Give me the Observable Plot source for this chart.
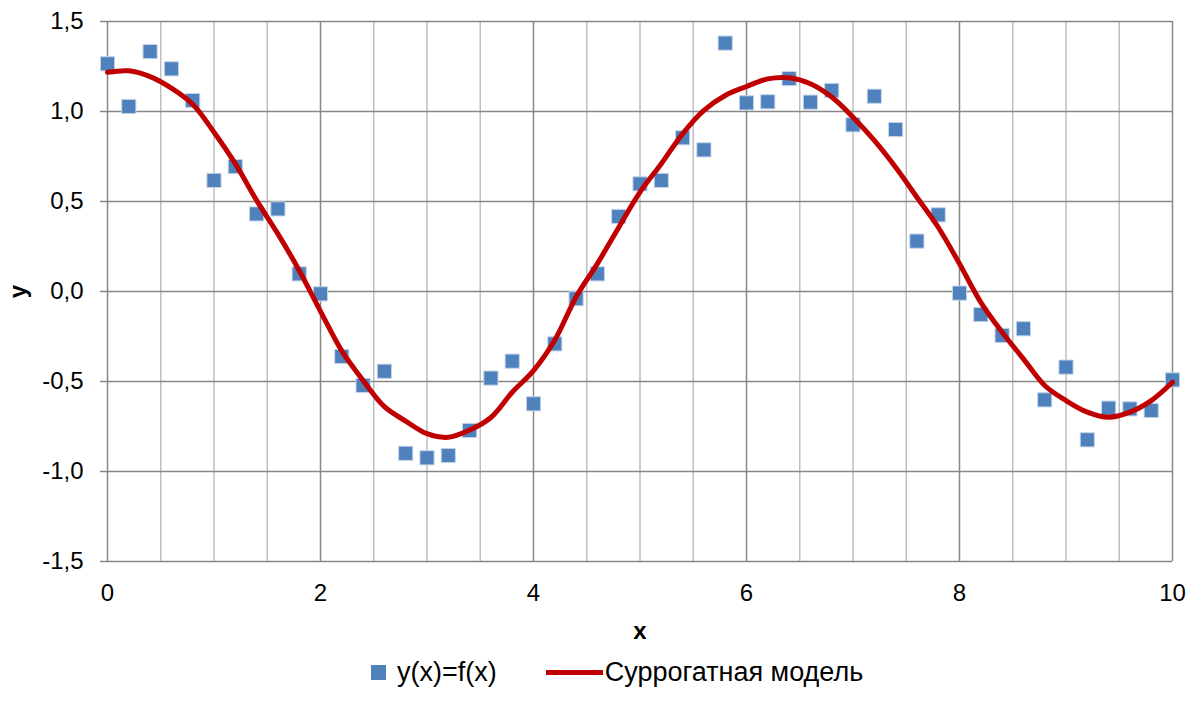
<!DOCTYPE html>
<html>
<head>
<meta charset="utf-8">
<script src="https://cdn.jsdelivr.net/npm/d3@7"></script>
<script src="https://cdn.jsdelivr.net/npm/@observablehq/plot@0.6"></script>
<style>
  body { margin: 0; background: #fff; font-family: "Liberation Sans", Arial, sans-serif; }
  #chart svg { overflow: visible; }
  g[aria-label="x-axis label"] text, g[aria-label="y-axis label"] text { font-weight: bold; }
  .legend { display: flex; align-items: center; height: 30px; margin-top: 7px; padding-left: 371px; font-size: 27px; color: #000; white-space: nowrap; }
  .sq { width: 15px; height: 15px; background: #4F81BD; margin-right: 11px; flex: none; }
  .ln { width: 57px; height: 5px; background: #C00000; margin-left: 49px; margin-right: 2px; flex: none; }
</style>
</head>
<body>
<div id="chart"></div>
<div class="legend"><span class="sq"></span><span>y(x)=f(x)</span><span class="ln"></span><span>Суррогатная модель</span></div>
<script>
// Observed points y(x)=f(x)
const xPoints = [0,0.2,0.4,0.6,0.8,1.0,1.2,1.4,1.6,1.8,2.0,2.2,2.4,2.6,2.8,3.0,3.2,3.4,3.6,3.8,4.0,4.2,4.4,4.6,4.8,5.0,5.2,5.4,5.6,5.8,6.0,6.2,6.4,6.6,6.8,7.0,7.2,7.4,7.6,7.8,8.0,8.2,8.4,8.6,8.8,9.0,9.2,9.4,9.6,9.8,10.0];
const yPoints = [1.265,1.028,1.333,1.237,1.061,0.617,0.694,0.431,0.459,0.098,-0.013,-0.361,-0.522,-0.443,-0.899,-0.924,-0.911,-0.772,-0.481,-0.387,-0.624,-0.291,-0.04,0.098,0.417,0.598,0.617,0.854,0.787,1.380,1.048,1.054,1.183,1.052,1.117,0.926,1.085,0.900,0.280,0.426,-0.009,-0.128,-0.244,-0.207,-0.602,-0.420,-0.824,-0.648,-0.652,-0.661,-0.491];
// Surrogate model curve
const xModel = [0,0.2,0.4,0.6,0.8,1.0,1.2,1.4,1.6,1.8,2.0,2.2,2.4,2.6,2.8,3.0,3.2,3.4,3.6,3.8,4.0,4.2,4.4,4.6,4.8,5.0,5.2,5.4,5.6,5.8,6.0,6.2,6.4,6.6,6.8,7.0,7.2,7.4,7.6,7.8,8.0,8.2,8.4,8.6,8.8,9.0,9.2,9.4,9.6,9.8,10.0];
const yModel = [1.218,1.226,1.194,1.13,1.04,0.885,0.71,0.506,0.32,0.117,-0.11,-0.33,-0.494,-0.64,-0.72,-0.79,-0.81,-0.77,-0.70,-0.56,-0.44,-0.27,-0.03,0.155,0.356,0.552,0.71,0.876,1.006,1.089,1.139,1.181,1.187,1.154,1.08,0.968,0.839,0.69,0.524,0.357,0.154,-0.06,-0.226,-0.374,-0.522,-0.606,-0.67,-0.698,-0.67,-0.606,-0.504];
// Ticks
const xTicks = [0,2,4,6,8,10];
const xMinorTicks = [0.5,1,1.5,2.5,3,3.5,4.5,5,5.5,6.5,7,7.5,8.5,9,9.5];
const yTicks = [-1.5,-1.0,-0.5,0.0,0.5,1.0,1.5];

const points = xPoints.map((x, i) => ({x, y: yPoints[i]}));
const model = xModel.map((x, i) => ({x, y: yModel[i]}));
const fmt = d => d.toFixed(1).replace(".", ",");

const chart = Plot.plot({
  width: 1194,
  height: 650,
  marginTop: 21,
  marginLeft: 107,
  marginRight: 22,
  marginBottom: 89,
  style: { fontFamily: "'Liberation Sans', Arial, sans-serif", fontSize: "24px", color: "#000", background: "#fff" },
  x: { domain: [0, 10] },
  y: { domain: [-1.5, 1.5] },
  marks: [
    Plot.ruleX(xMinorTicks, { stroke: "#bfbfbf", strokeWidth: 1.5, strokeOpacity: 1 }),
    Plot.ruleX(xTicks, { stroke: "#878787", strokeWidth: 1.5, strokeOpacity: 1 }),
    Plot.ruleY(yTicks, { stroke: "#878787", strokeWidth: 1.5, strokeOpacity: 1 }),
    Plot.axisY({ ticks: yTicks, tickFormat: fmt, tickSize: 7, tickPadding: 17, stroke: "#878787", strokeWidth: 1.5, label: "y", labelAnchor: "center", labelArrow: "none", labelOffset: 99 }),
    Plot.axisX({ ticks: xTicks, tickFormat: d => String(d), tickSize: 0, tickPadding: 22, label: "x", labelAnchor: "center", labelArrow: "none", labelOffset: 77 }),
    Plot.dot(points, { x: "x", y: "y", symbol: "square", r: 8, fill: "#4F81BD", stroke: "#c5d5ea", strokeWidth: 1 }),
    Plot.line(model, { x: "x", y: "y", stroke: "#C00000", strokeWidth: 5, curve: "catmull-rom" })
  ]
});
document.getElementById("chart").appendChild(chart);
</script>
</body>
</html>
